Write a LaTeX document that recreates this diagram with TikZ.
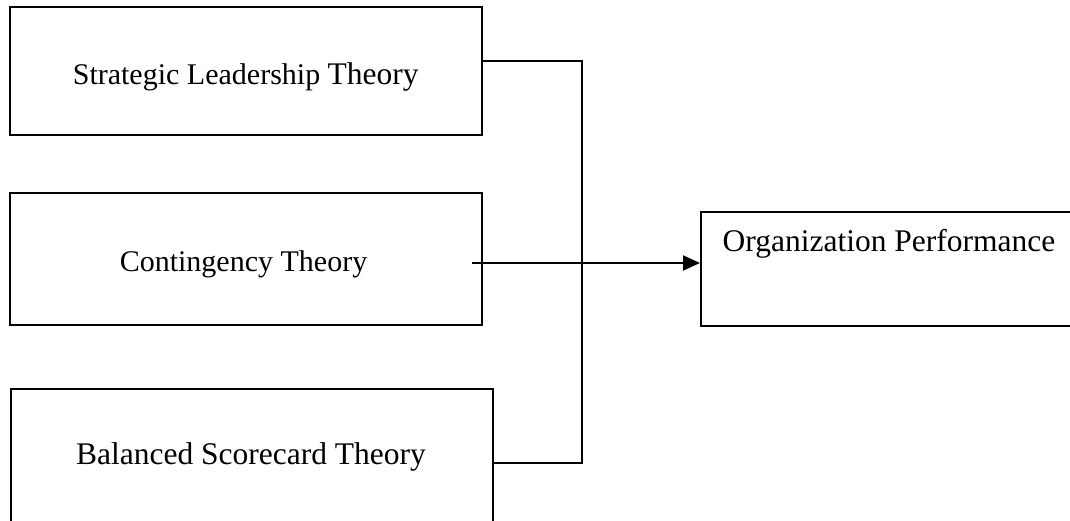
\documentclass[tikz,border=0pt]{standalone}
\usepackage{fontspec}
\setmainfont{Liberation Serif}
\usetikzlibrary{arrows.meta}
\begin{document}
\begin{tikzpicture}[x=1pt,y=-1pt,
  box/.style={draw, line width=2pt, inner sep=0pt, rectangle},
  lbl/.style={anchor=base, inner sep=0pt},
  conn/.style={line width=2pt},
  arr/.style={line width=2pt, -{Triangle[length=17pt,width=15pt]}}]
\useasboundingbox (0,0) rectangle (1070,521);
\node[box, minimum width=472.5pt, minimum height=128pt] (b1) at (245.75,71) {};
\node[lbl] (t1) at (245.75,84.5) {\fontsize{30}{36}\selectfont Strategic Leadership \fontsize{31.5}{36}\selectfont Theory};
\node[box, minimum width=472.5pt, minimum height=131.5pt] (b2) at (245.75,259.25) {};
\node[lbl, font=\fontsize{30}{36}\selectfont] (t2) at (243.5,271.5) {Contingency Theory};
\node[box, minimum width=482.5pt, minimum height=150pt, anchor=north west] (b3) at (9.5,388) {};
\node[lbl, font=\fontsize{31.5}{36}\selectfont] (t3) at (251,464) {Balanced Scorecard Theory};
\node[box, minimum width=400pt, minimum height=114pt, anchor=north west] (b4) at (700,211) {};
\node[lbl, font=\fontsize{31.5}{36}\selectfont] (t4) at (889,251.7) {Organization Performance};
\coordinate (j1) at (581.7,61.3);
\coordinate (j3) at (581.7,463.3);
\coordinate (a0) at (472,263);
\draw[conn] (b1.east |- j1) -- (j1) -- (j3) -- (b3.east |- j3);
\draw[arr] (a0) -- (b4.west |- a0);
\end{tikzpicture}
\end{document}
